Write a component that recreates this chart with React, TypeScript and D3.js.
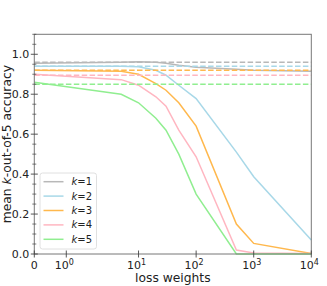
import React from "react";
import * as d3 from "d3";

// loss weights on the x axis (symlog, linthresh=2)
const weights = [0, 5, 10, 20, 30, 50, 100, 500, 1000, 10000];

const k1 = [0.955, 0.96, 0.962, 0.96, 0.955, 0.945, 0.935, 0.925, 0.92, 0.915];
const k2 = [0.94, 0.94, 0.937, 0.92, 0.895, 0.845, 0.778, 0.51, 0.387, 0.07];
const k3 = [0.92, 0.915, 0.9, 0.853, 0.82, 0.757, 0.64, 0.15, 0.053, 0.003];
const k4 = [0.9, 0.873, 0.845, 0.787, 0.74, 0.62, 0.487, 0.02, 0.005, 0.003];
const k5 = [0.86, 0.8, 0.757, 0.68, 0.62, 0.5, 0.3, 0.0, 0.0, 0.0];

// baselines (dashed)
const baselines = [0.96, 0.94, 0.92, 0.895, 0.85];

const labels = ["1", "2", "3", "4", "5"];
const colors = ["#b8b8b8", "#a8d8e8", "#ffb84d", "#ffb6c1", "#90ee90"];

const xTickVals = [0, 1, 10, 100, 1000, 10000];
const yTicks = [0, 0.2, 0.4, 0.6, 0.8, 1.0];

const W = 327;
const H = 286;
const left = 34.3, right = 311.3, top = 34.3, bottom = 254;

const LT = 2;
const LS = 1 / (1 - 0.1);
const symlog = (v: number) => (v < LT ? v * LS : LT * (LS + Math.log10(v / LT)));

export default function App() {
  const series = [k1, k2, k3, k4, k5];
  const x = d3.scaleLinear().domain([0, symlog(10000)]).range([left, right]);
  const y = d3.scaleLinear().domain([0, 1.1]).range([bottom, top]);
  const line = d3
    .line<number>()
    .x((_, i) => x(symlog(weights[i])))
    .y((d) => y(d));

  const minor = d3.range(0, 1.1001, 0.05).filter((v) => Math.abs(Math.round(v * 5) - v * 5) > 1e-6);
  const font = "DejaVu Sans, sans-serif";
  const tickColor = "#444";

  return (
    <svg width={W} height={H} style={{ position: "absolute", left: 0, top: 0 }} fontFamily={font}>
      <rect width={W} height={H} fill="#fff" />
      {/* solid series */}
      {series.map((s, i) => (
        <path key={"s" + i} d={line(s) || ""} fill="none" stroke={colors[i]} strokeWidth={1.5} />
      ))}
      {/* dashed baselines */}
      {baselines.map((b, i) => (
        <line key={"b" + i} x1={left} x2={right} y1={y(b)} y2={y(b)} stroke={colors[i]}
          strokeWidth={1.5} strokeDasharray="5.5,2.4" />
      ))}
      {/* frame */}
      <rect x={left} y={top} width={right - left} height={bottom - top} fill="none" stroke="#777" strokeWidth={1} />
      {/* y ticks */}
      {yTicks.map((t) => (
        <g key={"yt" + t}>
          <line x1={left - 3.5} x2={left + 3.5} y1={y(t)} y2={y(t)} stroke={tickColor} strokeWidth={0.9} />
          <text x={left - 5} y={y(t)} dy="0.35em" textAnchor="end" fontSize={11} fill="#222">
            {t.toFixed(1)}
          </text>
        </g>
      ))}
      {minor.map((t) => (
        <line key={"ym" + t} x1={left - 2} x2={left + 2} y1={y(t)} y2={y(t)} stroke={tickColor} strokeWidth={0.7} />
      ))}
      {/* x ticks */}
      {xTickVals.map((t, i) => (
        <g key={"xt" + t}>
          <line x1={x(symlog(t))} x2={x(symlog(t))} y1={bottom - 3.5} y2={bottom + 3.5} stroke={tickColor} strokeWidth={0.9} />
          {t === 0 ? (
            <text x={x(0)} y={bottom + 15} textAnchor="middle" fontSize={11} fill="#222">0</text>
          ) : (
            <text x={x(symlog(t)) - 2} y={bottom + 15} textAnchor="middle" fontSize={11} fill="#222">
              10
              <tspan dy={-4.5} fontSize={8}>{String(i - 1)}</tspan>
            </text>
          )}
        </g>
      ))}
      {/* axis labels */}
      <text x={(left + right) / 2} y={282} textAnchor="middle" fontSize={12.3} fill="#222">loss weights</text>
      <text transform={`translate(10.5,${(top + bottom) / 2 + 0}) rotate(-90)`} textAnchor="middle" fontSize={12.3} fill="#222">
        mean <tspan fontStyle="italic">k</tspan>-out-of-5 accuracy
      </text>
      {/* legend */}
      <g>
        <rect x={40} y={173} width={56.5} height={76} rx={2.5} fill="#fff" fillOpacity={0.8} stroke="#d8d8d8" strokeWidth={0.8} />
        {labels.map((l, i) => (
          <g key={"lg" + i} transform={`translate(0,${181.7 + i * 14.4})`}>
            <line x1={43.5} x2={63.5} y1={0} y2={0} stroke={colors[i]} strokeWidth={1.5} />
            <text x={71.5} y={0} dy="0.35em" fontSize={10} fill="#222">
              <tspan fontStyle="italic">k</tspan>={l}
            </text>
          </g>
        ))}
      </g>
    </svg>
  );
}
